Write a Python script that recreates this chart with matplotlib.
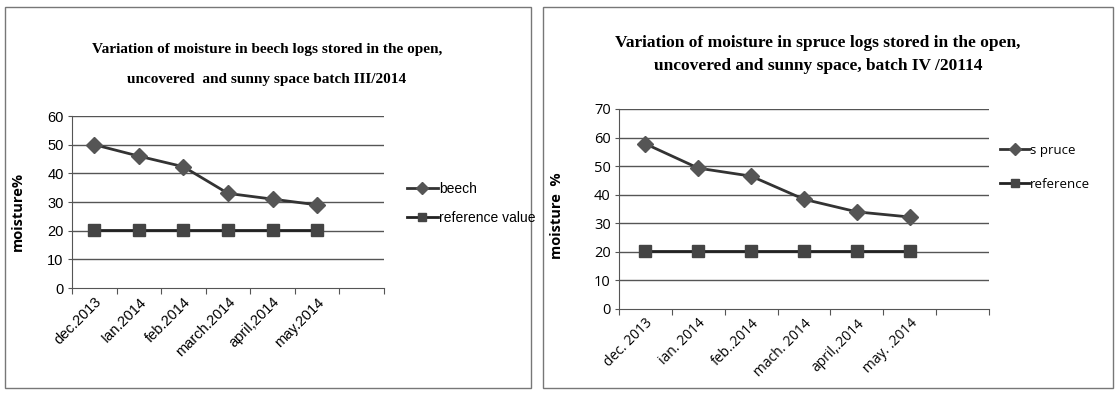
import matplotlib
matplotlib.use("Agg")
import matplotlib.pyplot as plt
from matplotlib.patches import Rectangle
import numpy as np

# ---- data ----
beech_months = ["dec.2013", "Ian.2014", "feb.2014", "march.2014", "april,2014", "may.2014"]
beech_values = [50, 46, 42.3, 33, 31, 29]
beech_reference = [20.3, 20.3, 20.3, 20.3, 20.3, 20.3]

spruce_months = ["dec. 2013", "ian. 2014", "feb..2014", "mach. 2014", "april,.2014", "may. .2014"]
spruce_values = [57.8, 49.3, 46.5, 38.4, 34.0, 32.2]
spruce_reference = [20.4, 20.4, 20.4, 20.4, 20.4, 20.4]

W, H = 1115, 394
fig = plt.figure(figsize=(W / 100, H / 100), dpi=100)
fig.patch.set_facecolor("white")

def fx(px):
    return px / W

def fy(py):
    return 1 - py / H

line_col = "#333333"
grid_col = "#555555"

# panel borders
for (x0, y0, x1, y1) in [(5, 7, 531, 388), (543, 7, 1113, 388)]:
    fig.patches.append(Rectangle((fx(x0), fy(y1)), fx(x1 - x0), (y1 - y0) / H,
                                 transform=fig.transFigure, fill=False,
                                 edgecolor="#777777", linewidth=1.0))

def make_panel(box, months, values, ref, ymax, lab1, lab2, tickfont, tk_fs, xl_fs,
               leg_pos, leg_gap, leg_fs):
    x0, ytop, x1, ybot = box
    ax = fig.add_axes([fx(x0), fy(ybot), fx(x1 - x0), (ybot - ytop) / H])
    n_slots = len(months) + 1
    pos = np.arange(len(months)) + 0.5
    ax.set_xlim(0, n_slots)
    ax.set_ylim(0, ymax)
    ax.set_yticks(np.arange(0, ymax + 1, 10))
    for v in np.arange(10, ymax + 1, 10):
        ax.axhline(v, color=grid_col, linewidth=1.0, zorder=1)
    ax.set_xticks(np.arange(0, n_slots + 1))
    ax.set_xticklabels([])
    ax.set_xticks(pos, minor=True)
    ax.set_xticklabels(months, minor=True, rotation=45, ha="right", va="top",
                       rotation_mode="anchor", fontsize=xl_fs, family=tickfont)
    ax.tick_params(axis="x", which="minor", length=0, pad=5)
    ax.tick_params(axis="x", which="major", length=4, direction="out", color=grid_col)
    ax.tick_params(axis="y", length=3, direction="out", color=grid_col, labelsize=tk_fs, pad=3)
    for lbl in ax.get_yticklabels():
        lbl.set_family(tickfont)
    for s in ["top", "right"]:
        ax.spines[s].set_visible(False)
    ax.spines["left"].set_color(grid_col)
    ax.spines["bottom"].set_color(grid_col)
    ax.patch.set_alpha(0)
    l1, = ax.plot(pos, values, color=line_col, linewidth=2, marker="D", markersize=8,
                  markerfacecolor="#555555", markeredgecolor="#555555", zorder=3)
    l2, = ax.plot(pos, ref, color="#222222", linewidth=2, marker="s", markersize=8.5,
                  markerfacecolor="#444444", markeredgecolor="#444444", zorder=3)
    fig.legend([l1, l2], [lab1, lab2], loc="upper left",
               bbox_to_anchor=(fx(leg_pos[0]), fy(leg_pos[1])),
               frameon=False, handlelength=2.2, handletextpad=0.1,
               labelspacing=leg_gap, prop={"family": tickfont, "size": leg_fs},
               markerscale=0.75, borderaxespad=0, borderpad=0)
    return ax

make_panel((72, 116, 384, 288), beech_months, beech_values, beech_reference, 60,
           "beech", "reference value", "Liberation Sans", 10.5, 10.5, (407, 182), 1.05, 10)
make_panel((619, 109, 989, 309), spruce_months, spruce_values, spruce_reference, 70,
           "s pruce", "reference", "Open Sans", 10.5, 10, (1000, 144), 1.6, 9.5)

fig.text(fx(267), fy(50), "Variation of moisture in beech logs stored in the open,",
         ha="center", va="center", family="Liberation Serif", weight="bold", fontsize=11)
fig.text(fx(267), fy(80), "uncovered  and sunny space batch III/2014",
         ha="center", va="center", family="Liberation Serif", weight="bold", fontsize=11)
fig.text(fx(818), fy(43), "Variation of moisture in spruce logs stored in the open,",
         ha="center", va="center", family="Liberation Serif", weight="bold", fontsize=12.5)
fig.text(fx(818), fy(66), "uncovered and sunny space, batch IV /20114",
         ha="center", va="center", family="Liberation Serif", weight="bold", fontsize=12.5)

fig.text(fx(18), fy(211), "moisture%", rotation=90, ha="center", va="center",
         family="Open Sans", weight="bold", fontsize=10.5)
fig.text(fx(557), fy(216), "moisture  %", rotation=90, ha="center", va="center",
         family="Open Sans", weight="bold", fontsize=10.5)

fig.savefig("out.png", dpi=100)
